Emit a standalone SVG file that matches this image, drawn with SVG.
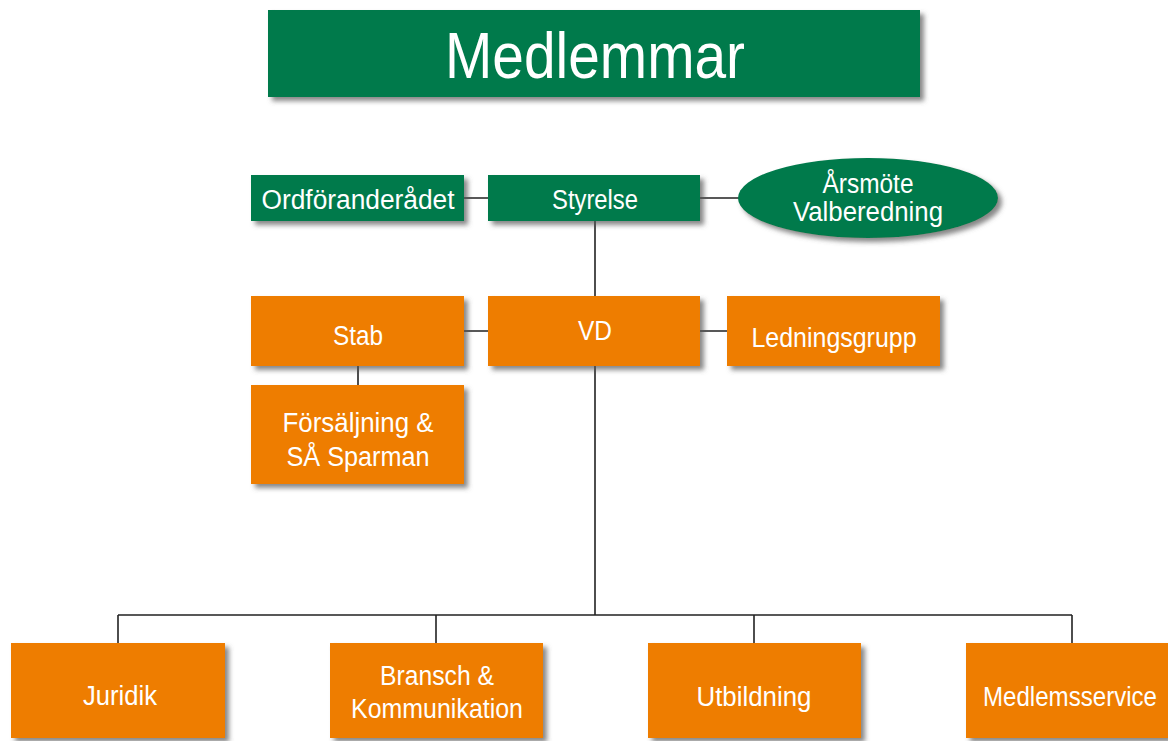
<svg xmlns="http://www.w3.org/2000/svg" width="1168" height="741" viewBox="0 0 1168 741">
<defs>
<filter id="sh" x="-10%" y="-10%" width="130%" height="140%">
<feDropShadow dx="4" dy="4" stdDeviation="2.5" flood-color="#555" flood-opacity="0.7"/>
</filter>
</defs>
<style>
.g{fill:#007A4C;filter:url(#sh)}
.o{fill:#EE7D00;filter:url(#sh)}
text{font-family:"Liberation Sans",Arial,sans-serif;fill:#fff;text-anchor:middle;font-size:27px}
.c{stroke:#222;stroke-width:1.6;fill:none}
</style>
<rect width="1168" height="741" fill="#fff"/>
<g id="connectors">
<path class="c" d="M464 198H488M700 198H740M595 221V296M464 331H488M700 331H727M358 366V385M595 366V615M118 615H1072M118 615V643M436 615V643M754 615V643M1072 615V643"/>
</g>
<g id="medlemmar"><rect class="g" x="268" y="10" width="652" height="87"/><text x="595" y="78" textLength="300" lengthAdjust="spacingAndGlyphs" style="font-size:64px">Medlemmar</text></g>
<g id="ordforanderadet"><rect class="g" x="251" y="175" width="213" height="46"/><text x="358" y="209" textLength="193" lengthAdjust="spacingAndGlyphs">Ordföranderådet</text></g>
<g id="styrelse"><rect class="g" x="488" y="175" width="212" height="46"/><text x="595" y="209" textLength="86" lengthAdjust="spacingAndGlyphs">Styrelse</text></g>
<g id="arsmote"><ellipse class="g" cx="868" cy="198" rx="130" ry="40"/><text x="868" y="193" textLength="91" lengthAdjust="spacingAndGlyphs">Årsmöte</text><text x="868" y="221" textLength="150" lengthAdjust="spacingAndGlyphs">Valberedning</text></g>
<g id="stab"><rect class="o" x="251" y="296" width="213" height="70"/><text x="358" y="345" textLength="50" lengthAdjust="spacingAndGlyphs">Stab</text></g>
<g id="vd"><rect class="o" x="488" y="296" width="212" height="70"/><text x="595" y="340" textLength="34" lengthAdjust="spacingAndGlyphs">VD</text></g>
<g id="ledningsgrupp"><rect class="o" x="727" y="296" width="213" height="70"/><text x="834" y="347" textLength="165" lengthAdjust="spacingAndGlyphs">Ledningsgrupp</text></g>
<g id="forsaljning"><rect class="o" x="251" y="385" width="213" height="99"/><text x="358" y="432" textLength="151" lengthAdjust="spacingAndGlyphs">Försäljning &amp;</text><text x="358" y="466" textLength="143" lengthAdjust="spacingAndGlyphs">SÅ Sparman</text></g>
<g id="juridik"><rect class="o" x="11" y="643" width="214" height="95"/><text x="120" y="705" textLength="74" lengthAdjust="spacingAndGlyphs">Juridik</text></g>
<g id="bransch"><rect class="o" x="330" y="643" width="213" height="95"/><text x="437" y="685" textLength="114" lengthAdjust="spacingAndGlyphs">Bransch &amp;</text><text x="437" y="718" textLength="172" lengthAdjust="spacingAndGlyphs">Kommunikation</text></g>
<g id="utbildning"><rect class="o" x="648" y="643" width="213" height="95"/><text x="754" y="706" textLength="115" lengthAdjust="spacingAndGlyphs">Utbildning</text></g>
<g id="medlemsservice"><rect class="o" x="966" y="643" width="202" height="95"/><text x="1070" y="706" textLength="174" lengthAdjust="spacingAndGlyphs">Medlemsservice</text></g>
</svg>
